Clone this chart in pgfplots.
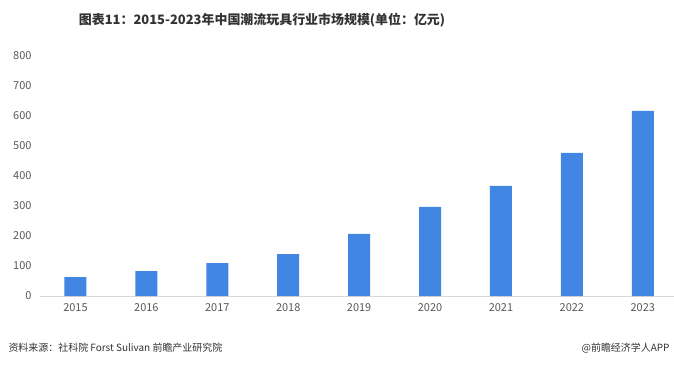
\documentclass[border=0pt]{standalone}
\usepackage{pgfplots}
\pgfplotsset{compat=1.18}
\usepackage{fontspec}
\setmainfont{Noto Sans CJK SC}
\definecolor{barblue}{RGB}{66,134,228}
\definecolor{ticklab}{RGB}{89,89,89}
\definecolor{axisgray}{RGB}{217,217,217}
\definecolor{txt}{RGB}{51,51,51}
\begin{document}
\begin{tikzpicture}[x=1bp,y=1bp]
\useasboundingbox (0,0) rectangle (674,365);
\fill[white] (0,0) rectangle (674,365);
\node[font=\fontsize{13}{15}\selectfont\bfseries, text=txt] at (262,345) {图表11：2015-2023年中国潮流玩具行业市场规模(单位：亿元)};
\node[anchor=west, font=\fontsize{10}{12}\selectfont, text=txt] at (5,17) {资料来源：社科院 Forst Sulivan 前瞻产业研究院};
\node[anchor=east, font=\fontsize{10}{12}\selectfont, text=txt] at (673,17) {@前瞻经济学人APP};
\begin{axis}[
  at={(40bp,69bp)}, anchor=south west,
  scale only axis, width=634bp, height=240bp,
  xmin=-0.5, xmax=8.44, ymin=0, ymax=800,
  ytick={0,100,...,800},
  xtick={0,...,8},
  xticklabels={2015,2016,2017,2018,2019,2020,2021,2022,2023},
  axis x line*=bottom, axis y line*=left,
  x axis line style={axisgray, line width=1pt, -},
  y axis line style={draw=none},
  major tick length=0pt,
  tick label style={font=\fontsize{11}{13}\selectfont, text=ticklab},
  /pgf/number format/assume math mode=true,
  yticklabel style={anchor=east, xshift=-5bp},
  xticklabel style={yshift=-4bp},
  clip=false,
]
\addplot[ybar, bar width=22bp, fill=barblue, draw=none] coordinates {
 (0,63) (1,83) (2,110) (3,140) (4,207) (5,297) (6,367) (7,477) (8,617)
};
\end{axis}
\end{tikzpicture}
\end{document}
